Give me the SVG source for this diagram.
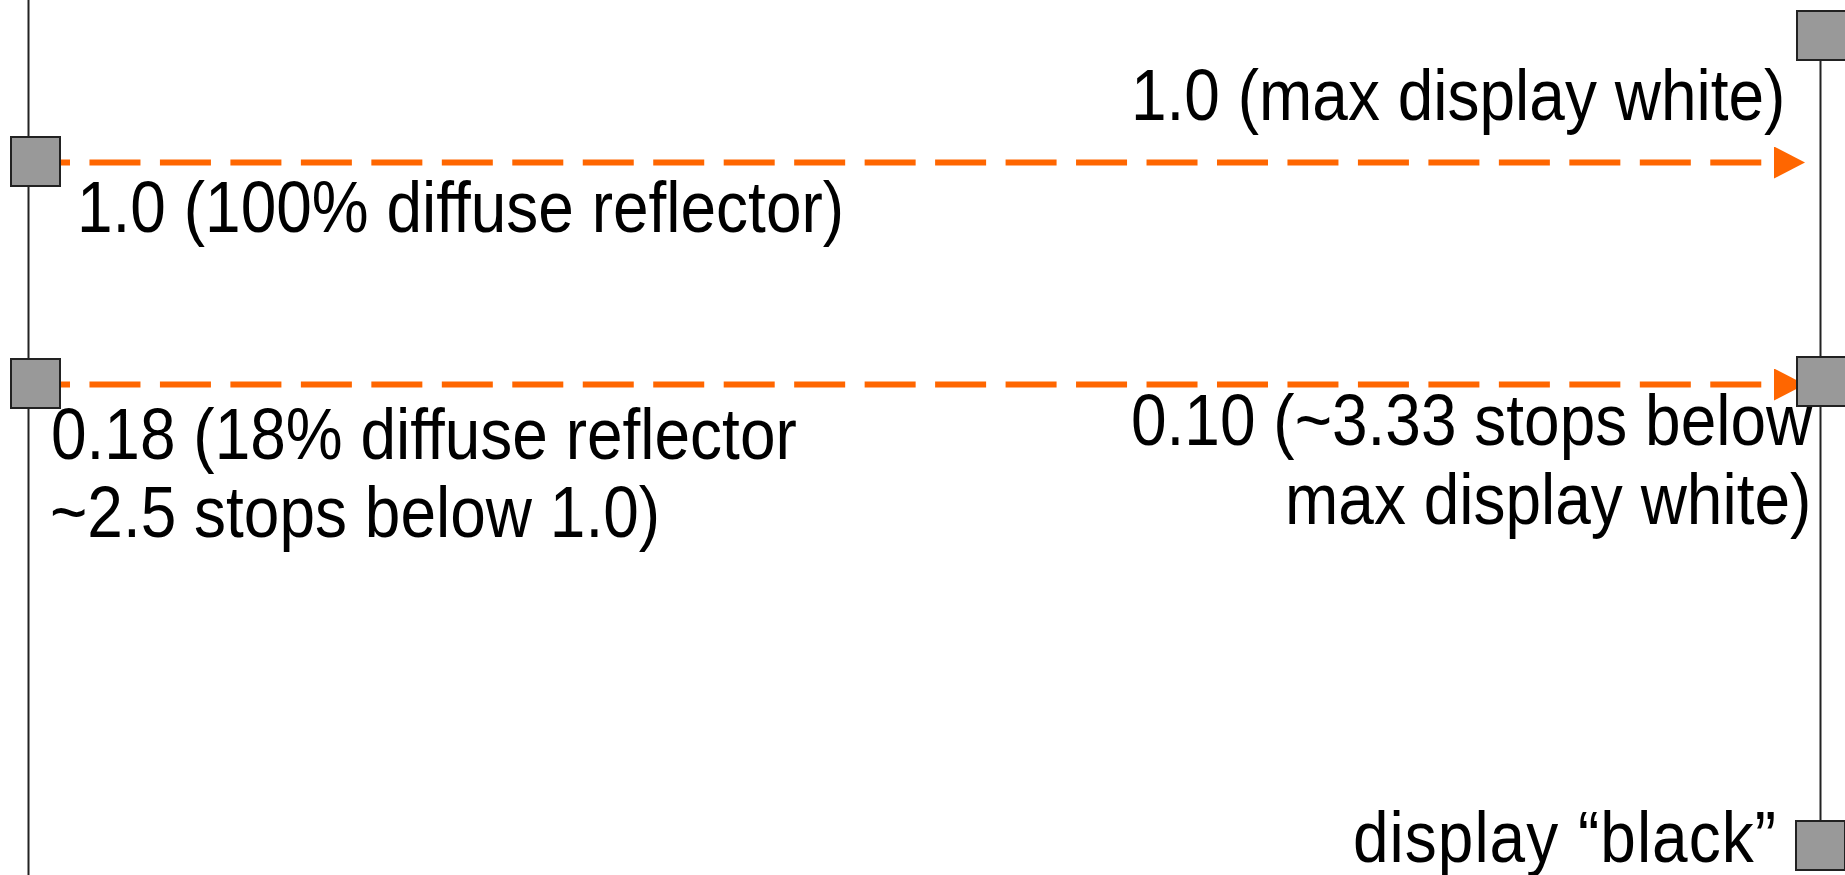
<svg xmlns="http://www.w3.org/2000/svg" width="1845" height="875" viewBox="0 0 1845 875">
  <style>
    .axis { stroke: #222222; stroke-width: 2; fill: none; }
    .tick { fill: #999999; stroke: #222222; stroke-width: 2; }
    .map { stroke: #FF6600; stroke-width: 6; fill: none; stroke-dasharray: 51 19.47; stroke-dashoffset: 41; }
    .label { font-family: "Liberation Sans", Arial, sans-serif; font-size: 64px; fill: #000000; }
  </style>
  <defs>
    <marker id="arrow" markerUnits="userSpaceOnUse" viewBox="0 0 31 32" markerWidth="31" markerHeight="32" refX="0" refY="16" orient="auto">
      <path d="M0,0 L31,16 L0,32 Z" fill="#FF6600"/>
    </marker>
  </defs>

  <!-- scene-referred and display-referred axes -->
  <g id="axes">
    <line class="axis" x1="28.5" y1="0" x2="28.5" y2="875"/>
    <line class="axis" x1="1820.5" y1="60" x2="1820.5" y2="820"/>
  </g>

  <!-- mapping arrows -->
  <g id="connectors">
    <line class="map" x1="60" y1="162.5" x2="1774" y2="162.5" marker-end="url(#arrow)"/>
    <line class="map" x1="60" y1="384.5" x2="1774" y2="384.5" marker-end="url(#arrow)"/>
  </g>

  <!-- labels use a slightly tall face: scaled 1.12 vertically about the baseline -->
  <g id="scene-white">
    <rect class="tick" x="11" y="137" width="49" height="49"/>
    <text class="label" transform="translate(77,232) scale(1,1.12)">1.0 (100% diffuse reflector)</text>
  </g>

  <g id="scene-grey">
    <rect class="tick" x="11" y="359" width="49" height="49"/>
    <text class="label" transform="translate(51,459) scale(1,1.12)">0.18 (18% diffuse reflector</text>
    <text class="label" transform="translate(50,537) scale(1,1.12)">~2.5 stops below 1.0)</text>
  </g>

  <g id="display-white">
    <rect class="tick" x="1797" y="11" width="49" height="49"/>
    <text class="label" transform="translate(1131,120) scale(1,1.12)">1.0 (max display white)</text>
  </g>

  <g id="display-grey">
    <rect class="tick" x="1797" y="357" width="49" height="49"/>
    <text class="label" transform="translate(1131,445) scale(1,1.12)">0.10 (~3.33 stops below</text>
    <text class="label" transform="translate(1285,524) scale(1,1.12)">max display white)</text>
  </g>

  <g id="display-black">
    <rect class="tick" x="1796" y="821" width="49" height="49"/>
    <text class="label" transform="translate(1353,862) scale(1,1.12)" textLength="423" lengthAdjust="spacing">display “black”</text>
  </g>
</svg>
